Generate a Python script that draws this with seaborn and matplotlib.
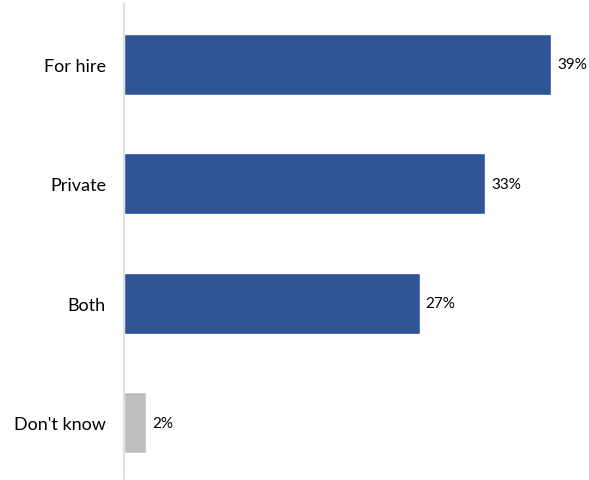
import matplotlib
matplotlib.use("Agg")
import matplotlib.pyplot as plt
import seaborn as sns
import pandas as pd

categories = ["For hire", "Private", "Both", "Don't know"]
values = [39, 33, 27, 2]
bar_colors = ["#2F5597", "#2F5597", "#2F5597", "#BFBFBF"]

sns.set_style("white")
plt.rcParams["font.family"] = ["Lato", "DejaVu Sans"]

df = pd.DataFrame({"category": categories, "value": values})

fig = plt.figure(figsize=(5.89, 4.81), dpi=100)
ax = fig.add_axes([0.2105, 0.002, 0.781, 0.9876])

sns.barplot(data=df, x="value", y="category", hue="category",
            palette=bar_colors, orient="h", width=0.51, legend=False,
            saturation=1, ax=ax)

ax.set_xlim(0, 42)
ax.set_ylim(3.47, -0.506)

for i, v in enumerate(values):
    ax.text(v + 0.55, i, f"{v}%", va="center", ha="left", fontsize=11, color="#000000")

for s in ["top", "right", "bottom"]:
    ax.spines[s].set_visible(False)
ax.spines["left"].set_color("#D9D9D9")
ax.spines["left"].set_linewidth(1.2)

ax.set_xticks([])
ax.set_xlabel("")
ax.set_ylabel("")
ax.tick_params(axis="y", length=0, pad=13, labelsize=13, labelcolor="#000000")

fig.savefig("out.png", dpi=100)
